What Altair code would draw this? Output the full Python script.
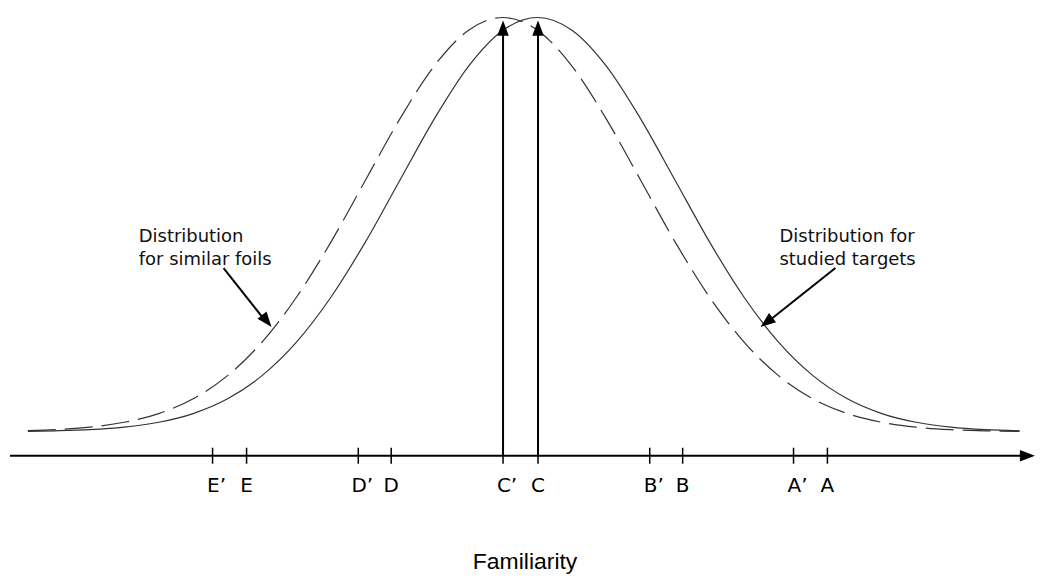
import altair as alt
import pandas as pd

# Curve samples (x in familiarity units, y = height of the distribution)
x_grid = [-3.45, -3.25, -3.0, -2.75, -2.5, -2.25, -2.0, -1.75, -1.5, -1.25, -1.0, -0.75,
          -0.5, -0.25, 0.0, 0.25, 0.5, 0.75, 1.0, 1.25, 1.5, 1.75, 2.0, 2.25, 2.5, 2.75,
          3.0, 3.25, 3.5, 3.75]
foils_y = [0.0010, 0.0020, 0.0044, 0.0091, 0.0175, 0.0317, 0.0540, 0.0863, 0.1295, 0.1826,
           0.2420, 0.3011, 0.3521, 0.3867, 0.3989, 0.3867, 0.3521, 0.3011, 0.2420, 0.1826,
           0.1295, 0.0863, 0.0540, 0.0317, 0.0175, 0.0091, 0.0044, 0.0020, 0.0009, 0.0004]
targets_y = [0.0004, 0.0009, 0.0020, 0.0044, 0.0091, 0.0175, 0.0317, 0.0540, 0.0863, 0.1295,
             0.1826, 0.2420, 0.3011, 0.3521, 0.3867, 0.3989, 0.3867, 0.3521, 0.3011, 0.2420,
             0.1826, 0.1295, 0.0863, 0.0540, 0.0317, 0.0175, 0.0091, 0.0044, 0.0020, 0.0009]

# Criterion tick positions and labels
tick_labels = ["E’", "E", "D’", "D", "C’", "C", "B’", "B", "A’", "A"]
tick_x = [-2.109, -1.862, -1.051, -0.812, 0.0, 0.254, 1.065, 1.304, 2.109, 2.355]

X_DOM = [-3.5797, 3.913]
Y_DOM = [-0.13552, 0.40754]
AXIS_Y = -0.0231

xs = alt.Scale(domain=X_DOM, nice=False, zero=False)
ys = alt.Scale(domain=Y_DOM, nice=False, zero=False)
X = lambda f: alt.X(f, type="quantitative", scale=xs, axis=None)
Y = lambda f: alt.Y(f, type="quantitative", scale=ys, axis=None)

foils = pd.DataFrame({"x": x_grid, "y": foils_y})
targets = pd.DataFrame({"x": x_grid, "y": targets_y})

curve_foils = alt.Chart(foils).mark_line(
    color="#333333", strokeWidth=1.2, strokeDash=[28, 9], interpolate="monotone"
).encode(x=X("x"), y=Y("y"))
curve_targets = alt.Chart(targets).mark_line(
    color="#333333", strokeWidth=1.2, interpolate="monotone"
).encode(x=X("x"), y=Y("y"))

# Horizontal familiarity axis with arrow
axis_df = pd.DataFrame({"x": [-3.58], "x2": [3.80], "y": [AXIS_Y]})
axis_line = alt.Chart(axis_df).mark_rule(color="black", strokeWidth=2).encode(
    x=X("x"), x2="x2", y=Y("y"))

ARROW = "M0,0L1.6,4.2L-1.6,4.2Z"
heads_df = pd.DataFrame({
    "x": [3.862, 0.0, 0.254, -1.681, 1.870],
    "y": [AXIS_Y, 0.396, 0.396, 0.1009, 0.1009],
    "angle": [90, 0, 0, 141, 232],
})
heads = alt.Chart(heads_df).mark_point(
    shape=ARROW, filled=True, color="black", opacity=1, size=52, strokeWidth=0
).encode(x=X("x"), y=Y("y"), angle=alt.Angle("angle:Q", scale=None))

# Criterion ticks
ticks_df = pd.DataFrame({"x": tick_x, "y": [AXIS_Y + 0.0077] * 10,
                         "y2": [AXIS_Y - 0.0077] * 10, "label": tick_labels,
                         "ly": [-0.0519] * 10,
                         "primed": ["’" in t for t in tick_labels]})
ticks = alt.Chart(ticks_df).mark_rule(color="black", strokeWidth=1.5).encode(
    x=X("x"), y=Y("y"), y2="y2")
tick_text_plain = alt.Chart(ticks_df[~ticks_df["primed"]]).mark_text(
    font="DejaVu Sans", fontSize=20, color="black", baseline="middle", align="center"
).encode(x=X("x"), y=Y("ly"), text="label")
tick_text_prime = alt.Chart(ticks_df[ticks_df["primed"]]).mark_text(
    font="DejaVu Sans", fontSize=20, color="black", baseline="middle", align="center", dx=4
).encode(x=X("x"), y=Y("ly"), text="label")

# Vertical arrows at the means
vert_df = pd.DataFrame({"x": [0.0, 0.254], "y": [AXIS_Y, AXIS_Y], "y2": [0.385, 0.385]})
verts = alt.Chart(vert_df).mark_rule(color="black", strokeWidth=2).encode(
    x=X("x"), y=Y("y"), y2="y2")

# Annotation pointers
ptr_df = pd.DataFrame({"x": [-2.029, 2.413], "y": [0.1576, 0.1576],
                       "x2": [-1.72, 1.92], "y2": [0.1057, 0.1057]})
pointers = alt.Chart(ptr_df).mark_rule(color="black", strokeWidth=2).encode(
    x=X("x"), y=Y("y"), x2="x2", y2="y2")

ann_df = pd.DataFrame({
    "x": [-2.645, -2.645, 2.007, 2.007],
    "y": [0.1874, 0.1653, 0.1874, 0.1653],
    "text": ["Distribution", "for similar foils", "Distribution for", "studied targets"],
})
ann = alt.Chart(ann_df).mark_text(
    font="DejaVu Sans", fontSize=18, color="#111111", align="left", baseline="middle"
).encode(x=X("x"), y=Y("y"), text="text")

title_df = pd.DataFrame({"x": [0.16], "y": [-0.1259], "text": ["Familiarity"]})
title = alt.Chart(title_df).mark_text(
    font="Liberation Sans", fontSize=23, color="black", align="center", baseline="middle"
).encode(x=X("x"), y=Y("y"), text="text")

chart = alt.layer(
    curve_foils, curve_targets, axis_line, ticks, verts, pointers, heads,
    tick_text_plain, tick_text_prime, ann, title
).properties(width=1034, height=565, padding=0).configure_view(stroke=None)

chart.save("out.html", embed_options={"renderer": "svg", "actions": False})
